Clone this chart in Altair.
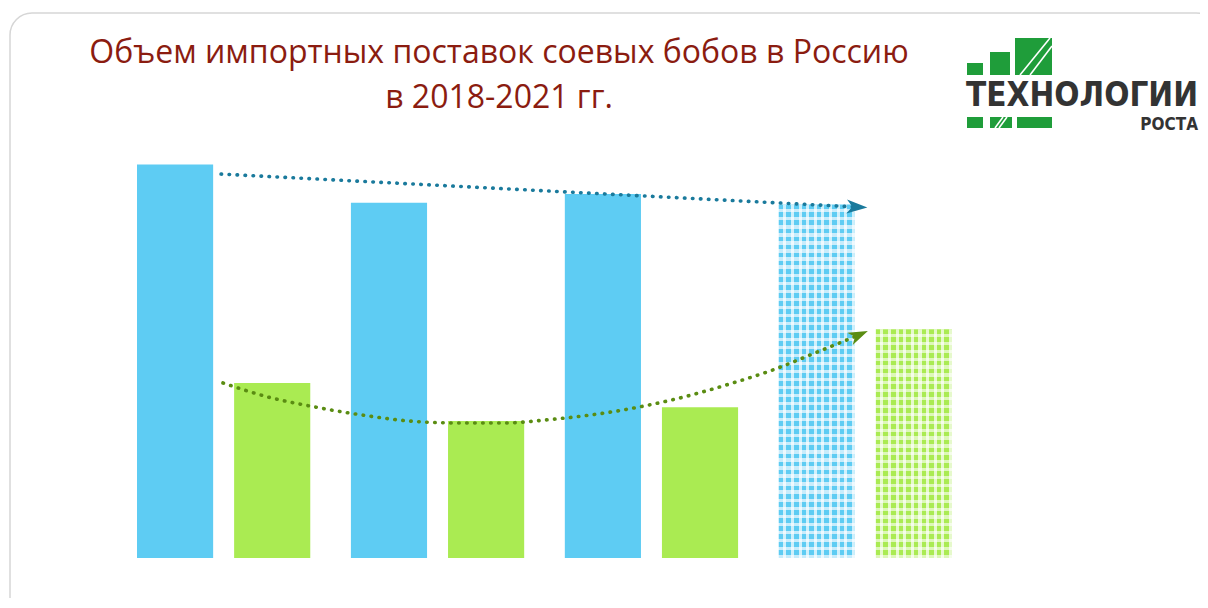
import altair as alt
import pandas as pd

# ---------------- data ----------------
years = ["2018", "2019", "2020", "2021"]
volume = [2270, 2050, 2100, 2040]      # blue bars
value = [1010, 790, 870, 1320]         # green bars

# trend annotations (position in year-steps, value)
blue_trend_u = [0.393, 3.366]
blue_trend_v = [2215, 2025]
green_trend_u = [0.402, 0.612, 0.832, 1.052, 1.276, 1.496, 1.720, 1.907,
                 2.244, 2.501, 2.786, 2.959, 3.170, 3.375]
green_trend_v = [1010, 929, 871, 825, 790, 779, 779, 796,
                 848, 912, 1010, 1079, 1183, 1287]

title_line1 = "Объем импортных поставок соевых бобов в Россию"
title_line2 = "в 2018-2021 гг."
logo_big = "ТЕХНОЛОГИИ"
logo_small = "РОСТА"

# ---------------- styles ----------------
BLUE = "#5ECCF3"
GREEN = "#AAEB52"
BLUE_LIGHT = "#c8ecfb"
GREEN_LIGHT = "#ddf7b8"
TREND_BLUE = "#1a7a9c"
TREND_GREEN = "#5a8c12"
TITLE_COLOR = "#8b1c10"
LOGO_GREEN = "#1f9d3a"
YMAX = 2400
W, H = 815, 416

series = ["volume", "value"]
rows = []
for i, y in enumerate(years):
    rows.append({"year": y, "series": "volume", "v": volume[i]})
    rows.append({"year": y, "series": "value", "v": value[i]})
df = pd.DataFrame(rows)

xs = alt.X("year:N", axis=None,
           scale=alt.Scale(domain=years, paddingInner=0.19, paddingOuter=0))
xo = alt.XOffset("series:N", scale=alt.Scale(domain=series, paddingInner=0.216, paddingOuter=0))
ys = alt.Y("v:Q", axis=None, scale=alt.Scale(domain=[0, YMAX], nice=False))


def stripes(n, c1, c2, frac, axis):
    stops = []
    for k in range(n):
        a, b, c = k / n, (k + frac) / n, (k + 1) / n
        stops += [{"offset": a, "color": c1}, {"offset": b, "color": c1},
                  {"offset": b, "color": c2}, {"offset": c, "color": c2}]
    return {"gradient": "linear", "x1": 0, "y1": 0,
            "x2": 1 if axis == "x" else 0, "y2": 1 if axis == "y" else 0,
            "stops": stops}


solid = alt.Chart(df).transform_filter(alt.datum.year != "2021").mark_bar().encode(
    x=xs, xOffset=xo, y=ys,
    color=alt.Color("series:N", legend=None,
                    scale=alt.Scale(domain=series, range=[BLUE, GREEN])),
)

hatched = []
for s, c1, c2, val in [("volume", BLUE, BLUE_LIGHT, volume[3]), ("value", GREEN, GREEN_LIGHT, value[3])]:
    hpx = val / YMAX * H
    ny = max(1, round(hpx / 8))
    base = alt.Chart(df).transform_filter(
        (alt.datum.year == "2021") & (alt.datum.series == s)
    ).encode(x=xs, xOffset=xo, y=ys)
    hatched.append(base.mark_bar(fill=stripes(ny, c1, c2, 0.6, "y")))
    hatched.append(base.mark_bar(fill=stripes(10, "rgba(255,255,255,0)", "rgba(255,255,255,0.7)", 0.6, "x")))

ux = alt.X("u:Q", axis=None, scale=alt.Scale(domain=[0, 3.81], nice=False, zero=False))
bt = pd.DataFrame({"u": blue_trend_u, "v": blue_trend_v})
gt = pd.DataFrame({"u": green_trend_u, "v": green_trend_v})

dash = dict(strokeDash=[0.5, 7.5], strokeCap="round", strokeWidth=3.6)
blue_line = alt.Chart(bt).mark_line(color=TREND_BLUE, **dash).encode(x=ux, y=ys)
green_line = alt.Chart(gt).mark_line(color=TREND_GREEN, interpolate="monotone", **dash).encode(x=ux, y=ys)

arrow = "M -1 -0.68 L 1 0 L -1 0.68 L -0.45 0 Z"
blue_head = alt.Chart(bt.tail(1)).mark_point(
    shape=arrow, filled=True, size=430, angle=3, color=TREND_BLUE, opacity=1
).encode(x=ux, y=ys)
green_head = alt.Chart(gt.tail(1)).mark_point(
    shape=arrow, filled=True, size=380, angle=336, color=TREND_GREEN, opacity=1
).encode(x=ux, y=ys)

one = pd.DataFrame({"k": [0]})

card = alt.Chart(one).mark_rect(
    fillOpacity=0, stroke="#d6d6d6", strokeWidth=1.5, cornerRadius=22
).encode(x=alt.value(-127), x2=alt.value(1081), y=alt.value(-129), y2=alt.value(478))

t1 = alt.Chart(one).mark_text(
    text=title_line1, font="Open Sans", fontSize=32, color=TITLE_COLOR,
    align="center", baseline="alphabetic"
).encode(x=alt.value(362), y=alt.value(-79))
t2 = alt.Chart(one).mark_text(
    text=title_line2, font="Open Sans", fontSize=32, color=TITLE_COLOR,
    align="center", baseline="alphabetic"
).encode(x=alt.value(362), y=alt.value(-34))

logo_blocks = []
for (x1, y1, x2, y2) in [(830, -79, 846, -67), (853, -90, 873, -67), (878, -104, 915, -67),
                         (830, -25, 846, -14), (853, -25, 875, -14), (880, -25, 915, -14)]:
    logo_blocks.append(alt.Chart(one).mark_rect(color=LOGO_GREEN).encode(
        x=alt.value(x1), x2=alt.value(x2), y=alt.value(y1), y2=alt.value(y2)))
for (x1, y1, x2, y2) in [(883, -67, 913, -104), (893, -67, 915, -96), (858, -14, 866, -25), (862, -14, 870, -25)]:
    logo_blocks.append(alt.Chart(one).mark_rule(color="white", strokeWidth=1.6).encode(
        x=alt.value(x1), x2=alt.value(x2), y=alt.value(y1), y2=alt.value(y2)))

lt1 = alt.Chart(one).mark_text(
    text=logo_big, font="DejaVu Sans Condensed", fontWeight="bold", fontSize=33,
    color="#333333", align="right", baseline="alphabetic"
).encode(x=alt.value(1061), y=alt.value(-36))
lt2 = alt.Chart(one).mark_text(
    text=logo_small, font="DejaVu Sans Condensed", fontWeight="bold", fontSize=17,
    color="#333333", align="right", baseline="alphabetic"
).encode(x=alt.value(1061), y=alt.value(-12))

chart = alt.layer(
    card, solid, *hatched, blue_line, green_line, blue_head, green_head,
    t1, t2, *logo_blocks, lt1, lt2
).resolve_scale(x="independent").properties(
    width=W, height=H,
    padding={"left": 129, "top": 134, "right": 248, "bottom": 40},
    autosize="none",
).configure_view(stroke=None)

chart.save("out.html", embed_options={"renderer": "svg", "actions": False})
